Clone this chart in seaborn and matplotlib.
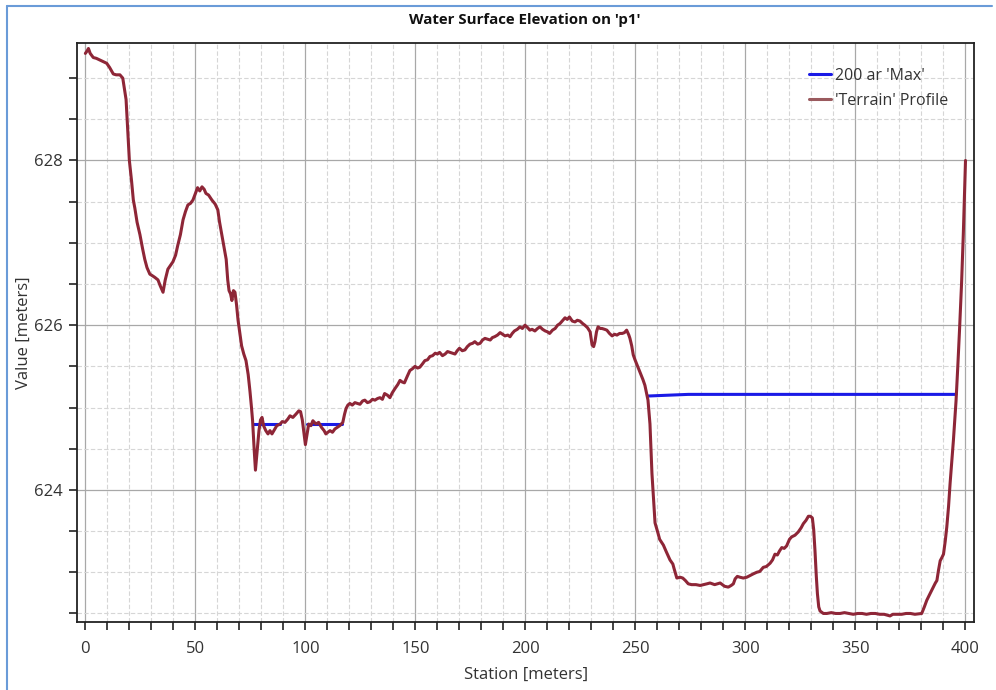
import numpy as np
import pandas as pd
import matplotlib
matplotlib.use("Agg")
import matplotlib.pyplot as plt
from matplotlib.lines import Line2D
from matplotlib.ticker import MultipleLocator, FixedLocator
import seaborn as sns

# ---------------- data ----------------
terrain_station = [
    0, 0.8, 1.4, 2.2, 3.6, 5, 6.6, 8.2, 9.7, 11, 12.7, 14, 15.7, 17, 18.5, 19.3, 20, 21, 21.8, 22.5,
    23.5, 24.8, 26, 27, 28, 29.3, 30.5, 31.6, 33, 34, 35.3, 36.3, 37.5, 38.5, 39.8, 41, 42, 43.2, 44.4, 45.5,
    46.6, 47.8, 48.9, 50, 51, 52, 53, 54, 54.8, 56, 57.5, 59, 60.2, 61, 62, 63, 64, 64.7, 65.3, 66,
    66.6, 67.3, 68, 68.7, 69.4, 70.2, 71, 72, 73, 74, 74.8, 75.5, 76, 76.7, 77.3, 78, 78.9, 79.6, 80.3, 81,
    82, 83, 83.9, 84.8, 85.7, 87, 88.5, 89.5, 90.7, 92, 93, 94.3, 95.7, 97, 97.8, 98.6, 99.4, 100, 100.6, 101.5,
    102.5, 103.4, 104.8, 106, 107.3, 108.5, 109.3, 110.2, 111.2, 112.3, 113.4, 114.5, 115.6, 117, 117.8, 118.5, 119.3, 120.2, 121.3, 122.5,
    123.6, 124.8, 126, 127, 128.2, 129.3, 130.5, 131.6, 132.8, 133.9, 135, 136, 137.3, 138.4, 139.5, 140.7, 142, 143, 144, 145,
    146.3, 147.5, 148.6, 149.8, 151, 152, 153.2, 154.3, 155.5, 156.6, 157.8, 159, 160, 161, 162.3, 163.5, 164.6, 165.7, 166.8, 168,
    169, 170, 171.3, 172.5, 173.6, 174.8, 176, 177, 178.3, 179.4, 180.5, 181.6, 182.8, 184, 185, 186, 187.3, 188.5, 189.6, 190.7,
    192, 193, 194, 195, 196.3, 197.5, 198.6, 199.8, 201, 202, 203, 204.3, 205.5, 206.6, 207.8, 209, 210, 211, 212.3, 213.5,
    214.6, 215.7, 217, 218, 219, 220, 221.3, 222.5, 223.6, 224.8, 226, 227, 228.2, 229.4, 230.3, 231, 231.6, 232.3, 233, 234,
    234.8, 236, 237, 238.2, 239.4, 240.5, 241.6, 242.8, 244, 245, 246, 247, 247.5, 248.3, 249, 249.8, 250.7, 251.6, 252.5, 253.4,
    254.3, 255, 255.7, 256.6, 257.5, 258.9, 260.2, 261, 262.7, 264, 265.7, 267, 267.5, 268.8, 270.3, 271.5, 272.7, 274, 275.5, 277.5,
    279.4, 281, 282.5, 283.9, 285, 286, 287.3, 288.5, 289.5, 290.5, 292.2, 293.5, 294.5, 295.3, 296.3, 297.5, 299, 300.6, 302, 303.5,
    305.1, 306.5, 308.1, 309.5, 311.2, 312.3, 313.4, 314.5, 315.5, 316.5, 317.6, 318.7, 320, 321, 322.5, 324, 325.3, 326.3, 327.5, 328.6,
    329.5, 330.4, 331, 331.6, 332.2, 332.7, 333.3, 333.9, 335.4, 337, 339, 341, 343, 345, 347, 349, 351, 353, 355, 357,
    359, 361, 363, 365.7, 367, 369, 371, 373, 375, 377, 380.1, 381.3, 382.4, 383.5, 385.4, 386.3, 387, 387.7, 388.5, 389.3,
    390, 390.8, 391.5, 392.3, 393, 393.8, 394.5, 395.2, 395.7, 396.5, 397.3, 398.2, 399, 400,
]
terrain_elev = [
    629.30, 629.33, 629.36, 629.30, 629.25, 629.24, 629.22, 629.20, 629.18, 629.13, 629.05, 629.04, 629.04, 629.00, 628.74, 628.35, 628.00, 627.75, 627.52, 627.42,
    627.25, 627.10, 626.93, 626.80, 626.70, 626.62, 626.60, 626.58, 626.55, 626.48, 626.40, 626.55, 626.68, 626.72, 626.77, 626.85, 626.97, 627.10, 627.28, 627.38,
    627.46, 627.48, 627.52, 627.60, 627.67, 627.63, 627.68, 627.65, 627.60, 627.58, 627.52, 627.47, 627.40, 627.25, 627.10, 626.95, 626.80, 626.55, 626.42, 626.38,
    626.30, 626.42, 626.40, 626.25, 626.06, 625.90, 625.75, 625.65, 625.57, 625.40, 625.20, 625.00, 624.84, 624.50, 624.24, 624.45, 624.72, 624.85, 624.88, 624.78,
    624.72, 624.68, 624.72, 624.68, 624.72, 624.78, 624.80, 624.83, 624.82, 624.86, 624.90, 624.88, 624.92, 624.96, 624.95, 624.85, 624.68, 624.55, 624.65, 624.80,
    624.78, 624.84, 624.80, 624.82, 624.76, 624.72, 624.68, 624.70, 624.72, 624.70, 624.74, 624.76, 624.78, 624.82, 624.92, 624.99, 625.03, 625.05, 625.03, 625.06,
    625.05, 625.04, 625.08, 625.09, 625.06, 625.07, 625.10, 625.09, 625.11, 625.12, 625.10, 625.17, 625.15, 625.12, 625.18, 625.23, 625.28, 625.33, 625.31, 625.30,
    625.38, 625.45, 625.47, 625.50, 625.48, 625.49, 625.53, 625.57, 625.58, 625.62, 625.63, 625.66, 625.65, 625.67, 625.63, 625.65, 625.68, 625.67, 625.66, 625.65,
    625.69, 625.72, 625.69, 625.70, 625.74, 625.77, 625.78, 625.80, 625.77, 625.78, 625.82, 625.84, 625.83, 625.82, 625.85, 625.86, 625.88, 625.91, 625.89, 625.87,
    625.88, 625.86, 625.90, 625.93, 625.95, 625.98, 625.96, 626.00, 625.97, 625.94, 625.95, 625.93, 625.96, 625.98, 625.95, 625.93, 625.92, 625.90, 625.94, 625.96,
    626.00, 626.02, 626.06, 626.09, 626.07, 626.10, 626.05, 626.04, 626.06, 626.05, 626.02, 626.00, 625.97, 625.92, 625.76, 625.74, 625.80, 625.92, 625.98, 625.96,
    625.96, 625.95, 625.94, 625.90, 625.87, 625.89, 625.88, 625.90, 625.90, 625.91, 625.94, 625.88, 625.84, 625.75, 625.64, 625.58, 625.52, 625.46, 625.40, 625.34,
    625.27, 625.18, 625.09, 624.80, 624.20, 623.60, 623.48, 623.40, 623.33, 623.25, 623.15, 623.10, 623.05, 622.93, 622.94, 622.93, 622.90, 622.86, 622.85, 622.85,
    622.84, 622.85, 622.86, 622.87, 622.86, 622.85, 622.86, 622.87, 622.85, 622.83, 622.82, 622.84, 622.86, 622.92, 622.95, 622.94, 622.93, 622.94, 622.96, 622.98,
    623.00, 623.01, 623.06, 623.07, 623.11, 623.15, 623.22, 623.21, 623.26, 623.30, 623.29, 623.32, 623.40, 623.43, 623.45, 623.49, 623.54, 623.59, 623.63, 623.68,
    623.68, 623.66, 623.52, 623.26, 622.95, 622.74, 622.58, 622.53, 622.50, 622.50, 622.51, 622.50, 622.50, 622.51, 622.50, 622.49, 622.50, 622.50, 622.49, 622.50,
    622.50, 622.49, 622.49, 622.47, 622.49, 622.49, 622.49, 622.50, 622.50, 622.49, 622.50, 622.58, 622.66, 622.72, 622.82, 622.87, 622.90, 623.02, 623.14, 623.18,
    623.22, 623.38, 623.55, 623.80, 624.08, 624.35, 624.60, 624.88, 625.08, 625.50, 625.95, 626.50, 627.10, 628.00,
]

# water surface (max) - wet reaches only
wse_station = [76.3, 88.6, 100.6, 116.5, 255.6, 274.0, 395.7]
wse_elev = [624.80, 624.80, 624.80, 624.80, 625.14, 625.16, 625.16]
wse_reach = [1, 1, 2, 2, 3, 3, 3]

x_ticks = [0, 50, 100, 150, 200, 250, 300, 350, 400]
y_ticks = [624, 626, 628]

title = "Water Surface Elevation on 'p1'"
series_names = ["200 ar 'Max'", "'Terrain' Profile"]

# ---------------- plot ----------------
sns.set_theme(style="white")
plt.rcParams["font.family"] = ["Open Sans", "DejaVu Sans"]

W, H = 996, 690
fig = plt.figure(figsize=(W / 100, H / 100), dpi=100)
ax = fig.add_axes([77 / W, 1 - 621.7 / H, (974.3 - 77) / W, (621.7 - 42.7) / H])

terrain_df = pd.DataFrame({"station": terrain_station, "elev": terrain_elev})
wse_df = pd.DataFrame({"station": wse_station, "elev": wse_elev, "reach": wse_reach})

blue = "#1a1ae6"
terr = "#8e2637"

sns.lineplot(data=wse_df, x="station", y="elev", units="reach", estimator=None,
             color=blue, lw=2.2, ax=ax, sort=False, zorder=3)
sns.lineplot(data=terrain_df, x="station", y="elev", estimator=None,
             color=terr, lw=2.2, ax=ax, sort=False, zorder=4)

ax.set_xlim(-3.8, 404.0)
ax.set_ylim(622.40, 629.43)

ax.xaxis.set_major_locator(FixedLocator(x_ticks))
ax.xaxis.set_minor_locator(MultipleLocator(10))
ax.yaxis.set_major_locator(FixedLocator(y_ticks))
ax.yaxis.set_minor_locator(MultipleLocator(0.5))
ax.set_xticklabels([str(v) for v in x_ticks])
ax.set_yticklabels([str(v) for v in y_ticks])

ax.grid(True, which="major", color="#a8a8a8", lw=0.9, ls="-", zorder=0)
ax.grid(True, which="minor", color="#d6d6d6", lw=0.8, ls=(0, (4, 2)), zorder=0)
ax.set_axisbelow(True)

ax.tick_params(axis="both", which="both", direction="out", length=6, width=1.2,
               color="#222222", labelsize=12, labelcolor="#333333",
               bottom=True, left=True)
ax.tick_params(axis="x", which="major", pad=8)
ax.tick_params(axis="y", which="major", pad=4)

for s in ax.spines.values():
    s.set_color("#222222")
    s.set_linewidth(1.3)

ax.set_xlabel("Station [meters]", fontsize=12, color="#333333", labelpad=7)
ax.set_ylabel("Value [meters]", fontsize=12, color="#333333", labelpad=2)

fig.text(525 / W, 1 - 20 / H, title, ha="center", va="center",
         fontsize=10.8, fontweight="bold", color="#111111")

handles = [Line2D([], [], color=blue, lw=2.2),
           Line2D([], [], color="#9a5a5e", lw=2.2)]
leg = ax.legend(handles, series_names, loc="upper left",
                bbox_to_anchor=(809 / W, 1 - 68 / H), bbox_transform=fig.transFigure,
                frameon=False, fontsize=11.5, handlelength=1.35, handletextpad=0.25,
                labelspacing=0.55, borderpad=0, borderaxespad=0)
for t in leg.get_texts():
    t.set_color("#333333")

# outer window border
border_c = "#6a9bd8"
fig.add_artist(Line2D([7 / W, 7 / W], [0, 1 - 6 / H], color=border_c, lw=1.5,
                      transform=fig.transFigure))
fig.add_artist(Line2D([7 / W, 992 / W], [1 - 6 / H, 1 - 6 / H], color=border_c, lw=1.5,
                      transform=fig.transFigure))

fig.savefig("out.png", dpi=100, facecolor="white")
